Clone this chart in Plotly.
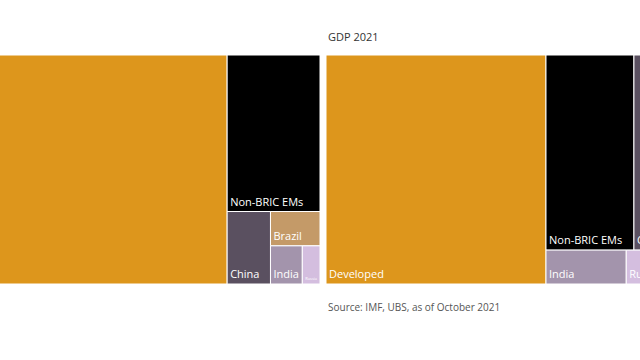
import plotly.graph_objects as go

labels = ["Developed", "Non-BRIC EMs", "China", "Brazil", "India", "Russia"]
gdp_2000 = [25.6, 5.6, 1.21, 0.655, 0.468, 0.26]
gdp_2021 = [59.3, 20.2, 17.7, 1.6, 3.2, 1.78]
colors = ["#DD961C", "#000000", "#5A5060", "#C49A68", "#A394AC", "#D4BEDF"]

FONT = "Open Sans, Noto Sans, sans-serif"
W = 774
left_w = 383
gap = 6


def tm(values, dom, ratio):
    return go.Treemap(
        labels=labels,
        parents=[""] * len(labels),
        values=values,
        domain=dict(x=dom, y=[0, 1]),
        marker=dict(colors=colors, line=dict(color="white", width=1),
                    pad=dict(t=0, l=0, r=0, b=0)),
        tiling=dict(pad=0, squarifyratio=ratio),
        pathbar=dict(visible=False),
        textposition="bottom left",
        textinfo="label",
        textfont=dict(family=FONT, size=11, color="white"),
        sort=True,
        hoverinfo="label+value",
    )


fig = go.Figure()
fig.add_trace(tm(gdp_2000, [0, left_w / W], 1))
fig.add_trace(tm(gdp_2021, [(left_w + gap) / W, 1], 1.618))

fig.update_layout(
    width=W, height=360,
    margin=dict(l=0, r=0, t=55, b=76),
    paper_bgcolor="white",
    font=dict(family=FONT),
    annotations=[
        dict(text="GDP 2021", x=(left_w + gap) / W, y=1, xref="paper", yref="paper",
             xanchor="left", yanchor="bottom", yshift=9, showarrow=False,
             font=dict(size=11, color="#333333", family=FONT)),
        dict(text="Source: IMF, UBS, as of October 2021", x=(left_w + gap) / W, y=0,
             xref="paper", yref="paper", xanchor="left", yanchor="top", yshift=-14,
             showarrow=False, font=dict(size=10, color="#555555", family=FONT)),
    ],
)

post = ("document.body.style.margin='0';document.body.style.overflow='hidden';"
        "document.getElementById('{plot_id}').style.marginLeft='-63px';")
fig.write_html("out.html", post_script=post)
